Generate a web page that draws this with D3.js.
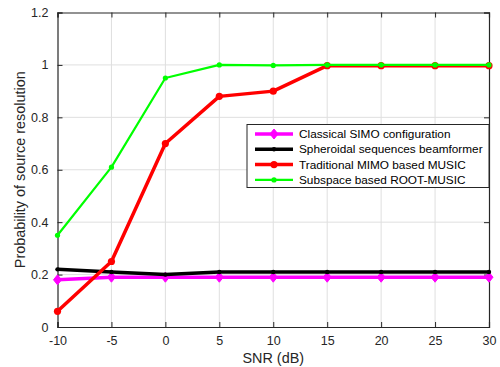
<html>
<head>
<meta charset="utf-8">
<script src="https://d3js.org/d3.v7.min.js"></script>
<style>
  body { margin: 0; padding: 0; background: #fff; }
  svg { display: block; font-family: Arial, "Liberation Sans", sans-serif; }
</style>
</head>
<body>
<script>
// data
var snr = [-10, -5, 0, 5, 10, 15, 20, 25, 30];
var simo = [0.18, 0.19, 0.19, 0.19, 0.19, 0.19, 0.19, 0.19, 0.19];
var spheroidal = [0.22, 0.21, 0.20, 0.21, 0.21, 0.21, 0.21, 0.21, 0.21];
var mimoMusic = [0.06, 0.25, 0.70, 0.88, 0.90, 0.997, 0.997, 0.997, 0.997];
var rootMusic = [0.35, 0.61, 0.95, 1.0, 0.998, 1.0, 1.0, 1.0, 1.0];
var xTicks = [-10, -5, 0, 5, 10, 15, 20, 25, 30];
var yTicks = [0, 0.2, 0.4, 0.6, 0.8, 1, 1.2];

var series = [
  {name: "Classical SIMO configuration", values: simo, color: "#ff00ff", width: 3.5, marker: "diamond", size: 5},
  {name: "Spheroidal sequences beamformer", values: spheroidal, color: "#000000", width: 3.5, marker: "dot", size: 2.2},
  {name: "Traditional MIMO based MUSIC", values: mimoMusic, color: "#ff0000", width: 3.5, marker: "dot", size: 3.6},
  {name: "Subspace based ROOT-MUSIC", values: rootMusic, color: "#00ff00", width: 2.2, marker: "dot", size: 2.6}
];

var W = 500, H = 367;
var m = {left: 57.5, right: 11, top: 12.5, bottom: 40};

var svg = d3.select("body").append("svg").attr("width", W).attr("height", H);

var x = d3.scaleLinear().domain([-10, 30]).range([m.left, W - m.right]);
var y = d3.scaleLinear().domain([0, 1.2]).range([H - m.bottom, m.top]);

// grid
svg.append("g").selectAll("line.gx").data(xTicks.slice(1, -1)).enter().append("line")
  .attr("x1", d => x(d)).attr("x2", d => x(d))
  .attr("y1", y(0)).attr("y2", y(1.2))
  .attr("stroke", "#dfdfdf").attr("stroke-width", 1);
svg.append("g").selectAll("line.gy").data(yTicks.slice(1, -1)).enter().append("line")
  .attr("y1", d => y(d)).attr("y2", d => y(d))
  .attr("x1", x(-10)).attr("x2", x(30))
  .attr("stroke", "#dfdfdf").attr("stroke-width", 1);

// axes
var axisColor = "#262626";
var xAxis = svg.append("g").attr("transform", "translate(0," + y(0) + ")")
  .call(d3.axisBottom(x).tickValues(xTicks).tickSize(-5).tickPadding(9).tickFormat(d => String(d)));
var xTop = svg.append("g").attr("transform", "translate(0," + y(1.2) + ")")
  .call(d3.axisTop(x).tickValues(xTicks).tickSize(-5).tickFormat(""));
var yAxis = svg.append("g").attr("transform", "translate(" + x(-10) + ",0)")
  .call(d3.axisLeft(y).tickValues(yTicks).tickSize(-5).tickPadding(9).tickFormat(d => String(d)));
var yRight = svg.append("g").attr("transform", "translate(" + x(30) + ",0)")
  .call(d3.axisRight(y).tickValues(yTicks).tickSize(-5).tickFormat(""));

[xAxis, xTop, yAxis, yRight].forEach(function(g) {
  g.select(".domain").attr("stroke", axisColor).attr("stroke-width", 1.2);
  g.selectAll(".tick line").attr("stroke", axisColor);
  g.selectAll(".tick text").attr("fill", axisColor).style("font-size", "12.5px").style("font-family", "Arial, 'Liberation Sans', sans-serif");
});

// lines
var line = d3.line().x((d, i) => x(snr[i])).y(d => y(d));

function drawMarker(g, s, cx, cy) {
  if (s.marker === "diamond") {
    g.append("path")
      .attr("d", "M" + cx + "," + (cy - s.size) + "L" + (cx + s.size * 0.8) + "," + cy + "L" + cx + "," + (cy + s.size) + "L" + (cx - s.size * 0.8) + "," + cy + "Z")
      .attr("fill", s.color).attr("stroke", s.color).attr("stroke-width", 1);
  } else {
    g.append("circle").attr("cx", cx).attr("cy", cy).attr("r", s.size).attr("fill", s.color);
  }
}

series.forEach(function(s) {
  var g = svg.append("g");
  g.append("path").datum(s.values).attr("d", line)
    .attr("fill", "none").attr("stroke", s.color).attr("stroke-width", s.width)
    .attr("stroke-linejoin", "round");
  s.values.forEach(function(v, i) { drawMarker(g, s, x(snr[i]), y(v)); });
});

// legend
var lg = svg.append("g");
lg.append("rect").attr("x", 247).attr("y", 124.5).attr("width", 242).attr("height", 63)
  .attr("fill", "#fff").attr("stroke", axisColor).attr("stroke-width", 1);
series.forEach(function(s, i) {
  var ly = 134 + i * 15.3;
  lg.append("line").attr("x1", 255).attr("x2", 293).attr("y1", ly).attr("y2", ly)
    .attr("stroke", s.color).attr("stroke-width", s.width);
  drawMarker(lg, s, 274, ly);
  lg.append("text").attr("x", 299).attr("y", ly + 4).text(s.name)
    .attr("fill", "#000").style("font-size", "11.8px");
});

// labels
svg.append("text").attr("x", (x(-10) + x(30)) / 2).attr("y", 363).attr("text-anchor", "middle")
  .attr("fill", axisColor).style("font-size", "14.4px").text("SNR (dB)");
svg.append("text").attr("transform", "translate(25," + y(0.6) + ") rotate(-90)").attr("text-anchor", "middle")
  .attr("fill", axisColor).style("font-size", "14.4px").text("Probability of source resolution");
</script>
</body>
</html>
